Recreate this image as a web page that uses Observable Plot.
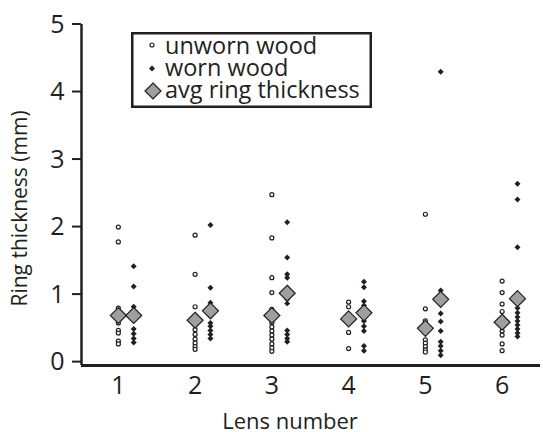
<!DOCTYPE html>
<html>
<head>
<meta charset="utf-8">
<script src="https://cdn.jsdelivr.net/npm/d3@7"></script>
<script src="https://cdn.jsdelivr.net/npm/@observablehq/plot@0.6"></script>
<style>
  html, body { margin: 0; padding: 0; background: #fff; }
  #wrap { position: relative; width: 543px; height: 432px; }
  #legend { position: absolute; left: 131px; top: 32px; overflow: visible; }
</style>
</head>
<body>
<div id="wrap"></div>
<script>
const lenses = [1, 2, 3, 4, 5, 6];
const lensLabels = ["1", "2", "3", "4", "5", "6"];
const unwornWood = [
  [2.0, 1.78, 0.80, 0.75, 0.58, 0.47, 0.43, 0.31, 0.27],
  [1.88, 1.30, 0.82, 0.55, 0.48, 0.41, 0.34, 0.28, 0.23, 0.19],
  [2.48, 1.84, 1.25, 1.03, 0.78, 0.58, 0.52, 0.46, 0.40, 0.34, 0.27, 0.21, 0.16],
  [0.89, 0.82, 0.62, 0.44, 0.20],
  [2.19, 0.79, 0.61, 0.50, 0.33, 0.28, 0.23, 0.18, 0.15],
  [1.20, 1.03, 0.86, 0.75, 0.58, 0.46, 0.40, 0.27, 0.17]
];
const wornWood = [
  [1.42, 1.12, 0.82, 0.72, 0.49, 0.42, 0.35, 0.29],
  [2.03, 1.10, 0.88, 0.58, 0.53, 0.47, 0.41, 0.35],
  [2.07, 1.55, 1.30, 1.25, 0.93, 0.87, 0.47, 0.41, 0.35, 0.30],
  [1.19, 1.11, 0.90, 0.84, 0.68, 0.61, 0.53, 0.46, 0.24, 0.17],
  [4.30, 1.06, 1.00, 0.86, 0.72, 0.60, 0.46, 0.30, 0.24, 0.17, 0.10],
  [2.64, 2.41, 1.70, 0.88, 0.80, 0.73, 0.67, 0.61, 0.55, 0.49, 0.43, 0.38]
];
const avgUnworn = [0.69, 0.62, 0.69, 0.64, 0.50, 0.59];
const avgWorn = [0.69, 0.76, 1.02, 0.73, 0.93, 0.94];
const yTicks = [0, 1, 2, 3, 4, 5];
const yTickLabels = ["0", "1", "2", "3", "4", "5"];
const xDomain = [0.52, 6.5];
const yDomain = [-0.05, 5];
const wornOffset = 0.2;
const legendLabels = ["unworn wood", "worn wood", "avg ring thickness"];

const ink = "#231f20";
const grey = "#9d9fa2";
const font = "'Open Sans', sans-serif";

const unwornPts = lenses.flatMap((l, i) => unwornWood[i].map(v => ({x: l, y: v})));
const wornPts = lenses.flatMap((l, i) => wornWood[i].map(v => ({x: l + wornOffset, y: v})));
const avgPts = lenses.flatMap((l, i) => [
  {x: l, y: avgUnworn[i]},
  {x: l + wornOffset, y: avgWorn[i]}
]);

const chart = Plot.plot({
  width: 543,
  height: 432,
  marginLeft: 81,
  marginRight: 3,
  marginTop: 24,
  marginBottom: 67,
  style: {fontFamily: font, fontSize: "25px", color: ink, background: "#fff", overflow: "visible"},
  x: {domain: xDomain, ticks: lenses, tickFormat: d => lensLabels[lenses.indexOf(d)], tickSize: 0, tickPadding: 11, label: null},
  y: {domain: yDomain, ticks: yTicks, tickFormat: d => yTickLabels[yTicks.indexOf(d)], tickSize: 0, tickPadding: 17, label: null},
  marks: [
    Plot.ruleY([yDomain[0]], {stroke: ink, strokeWidth: 3}),
    Plot.ruleX([xDomain[0]], {y1: yDomain[0], y2: yDomain[1], stroke: ink, strokeWidth: 2.5}),
    Plot.dot(unwornPts, {x: "x", y: "y", r: 2, stroke: ink, strokeWidth: 1.2, fill: "#fff"}),
    Plot.dot(wornPts, {x: "x", y: "y", symbol: "diamond2", r: 2.7, fill: ink, stroke: "none"}),
    Plot.dot(avgPts, {x: "x", y: "y", symbol: "diamond2", r: 7.2, fill: grey, stroke: ink, strokeWidth: 1.2}),
    Plot.text(["Ring thickness (mm)"], {frameAnchor: "left", textAnchor: "middle", lineAnchor: "middle", rotate: -90, dx: -61, dy: 13.5, fontSize: 21, fill: ink}),
    Plot.text(["Lens number"], {frameAnchor: "bottom", textAnchor: "middle", lineAnchor: "middle", dx: -21, dy: 56, fontSize: 22, fill: ink})
  ]
});

const wrap = document.getElementById("wrap");
wrap.appendChild(chart);

// y-axis tick marks, positioned through Plot's own x and y scales
const ys = chart.scale("y");
const xs = chart.scale("x");
const x0 = xs.apply(xDomain[0]);
d3.select(chart).append("g").attr("aria-label", "y tick marks")
  .selectAll("line").data(yTicks).join("line")
  .attr("x1", x0 - 9).attr("x2", x0)
  .attr("y1", d => ys.apply(d)).attr("y2", d => ys.apply(d))
  .attr("stroke", ink).attr("stroke-width", 2);

// Legend
const ns = "http://www.w3.org/2000/svg";
const lg = document.createElementNS(ns, "svg");
lg.setAttribute("id", "legend");
lg.setAttribute("width", 242);
lg.setAttribute("height", 77);
lg.style.fontFamily = font;
const sym = [
  `<rect x="1.25" y="1.25" width="238.5" height="73.5" fill="#fff" stroke="${ink}" stroke-width="2.5"/>`,
  `<circle cx="21" cy="13" r="2" fill="#fff" stroke="${ink}" stroke-width="1.2"/>`,
  `<path d="M21,33.5 L24,36.5 L21,39.5 L18,36.5 Z" fill="${ink}"/>`,
  `<path d="M22,51 L30,59 L22,67 L14,59 Z" fill="${grey}" stroke="${ink}" stroke-width="1.2"/>`
];
const baselines = [22, 44, 66];
let inner = sym.join("");
legendLabels.forEach((t, i) => {
  inner += `<text x="34" y="${baselines[i]}" font-size="23.5" fill="${ink}">${t}</text>`;
});
lg.insertAdjacentHTML("beforeend", inner);
wrap.appendChild(lg);
</script>
</body>
</html>
